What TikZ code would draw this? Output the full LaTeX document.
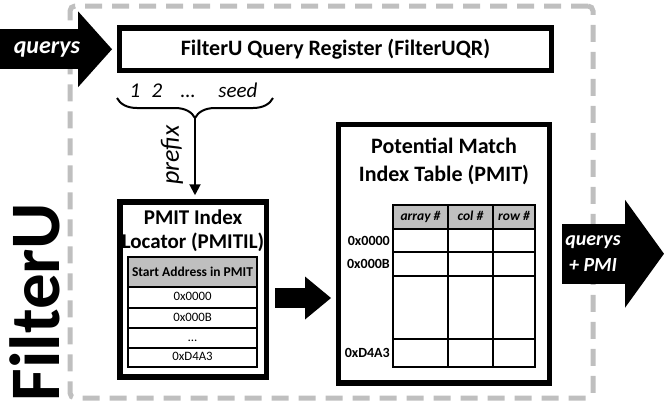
\documentclass[tikz,border=0pt]{standalone}
\usepackage{fontspec}
\setmainfont{Carlito}
\usetikzlibrary{arrows.meta,positioning,decorations.pathreplacing}
\definecolor{framegray}{HTML}{BFBFBF}
\definecolor{headgray}{HTML}{BFBFBF}

\begin{document}
\begin{tikzpicture}[
  x=1pt, y=-1pt,
  frame/.style={draw=framegray, line width=5pt, dash pattern=on 17pt off 10pt, rounded corners=5pt},
  unit/.style={draw, line width=5.5pt, fill=white},
  title/.style={font=\bfseries\fontsize{22}{24}\selectfont, align=center, inner sep=0pt},
  fat/.style={line width=#1},
  flow/.style={white, font=\bfseries\itshape\fontsize{#1}{26}\selectfont, align=center, inner sep=0pt},
  idx/.style={font=\itshape\fontsize{21}{21}\selectfont, inner sep=0pt, anchor=base},
  cell/.style={draw, line width=1.6pt, outer sep=0pt, inner sep=0pt, fill=white},
  ilhead/.style={cell, fill=headgray, minimum width=129pt, minimum height=30pt, font=\bfseries\fontsize{13.5}{14}\selectfont},
  ilrow/.style={cell, minimum width=129pt, minimum height=20pt, text height=9pt, text depth=2.5pt, font=\fontsize{12.8}{13}\selectfont},
  pmhead/.style={cell, fill=headgray, minimum height=24pt, text height=10pt, text depth=3pt, font=\bfseries\itshape\fontsize{13.5}{14}\selectfont},
  rowlabel/.style={font=\bfseries\fontsize{14}{14}\selectfont, inner sep=0pt}
]
\useasboundingbox (0,0) rectangle (664,408);

% FilterU boundary
\node[frame, minimum width=523pt, minimum height=392pt] (frame) at (331.5,202) {};
\node[rotate=90, font=\bfseries\fontsize{71}{71}\selectfont, inner sep=0pt] (filteru) at (35,302) {FilterU};

% query register
\node[unit, minimum width=432pt, minimum height=42.5pt, font=\bfseries\fontsize{22}{24}\selectfont] (uqr) at (335.5,49.25) {FilterU Query Register (FilterUQR)};
\coordinate (qin) at (0,49.25);
\draw[fat=40pt, -{Triangle[length=34pt, width=76pt, line width=0pt]}, shorten >=4.75pt] (qin) -- (uqr.west);
\node[flow=24] (qlabel) at (47,49) {querys};

% seed positions
\node[idx] (s1) at (135,97) {1};
\node[idx] (s2) at (157,97) {2};
\node[idx] (sdots) at (188,97) {…};
\node[idx] (sseed) at (238,97) {seed};
\coordinate (seedL) at (117,98);
\coordinate (seedR) at (273,98);
\coordinate (bracetip) at (195,118);
\draw[decorate, decoration={brace, mirror, amplitude=20pt}, line width=2pt] (seedL) -- (seedR);

% PMIT index locator
\node[unit, minimum width=146.5pt, minimum height=175pt] (il) at (193,289.5) {};
\node[title, font=\bfseries\fontsize{21}{24}\selectfont] (iltitle) at (193,230.5) {PMIT Index\\Locator (PMITIL)};
\node[ilhead] (ilh) at (192.5,272) {Start Address in PMIT};
\node[ilrow, below=0pt of ilh, minimum height=21pt] (il1) {0x0000};
\node[ilrow, below=0pt of il1] (il2) {0x000B};
\node[ilrow, below=0pt of il2] (il3) {…};
\node[ilrow, below=0pt of il3, minimum height=19pt] (il4) {0xD4A3};

\draw[line width=2pt, -{Triangle[length=11pt, width=11pt]}, shorten >=4pt] (bracetip) -- (bracetip |- il.north);
\node[rotate=90, font=\itshape\fontsize{26}{26}\selectfont, inner sep=0pt] (prefix) at (172,155) {prefix};

% potential match index table
\node[unit, minimum width=211pt, minimum height=258.5pt] (pmit) at (444,253.75) {};
\node[title, font=\bfseries\fontsize{22}{28}\selectfont] (pmtitle) at (444,161) {Potential Match\\Index Table (PMIT)};
\node[pmhead, minimum width=55pt] (ha) at (420.5,217) {array \#};
\node[pmhead, minimum width=45pt, right=0pt of ha] (hc) {col \#};
\node[pmhead, minimum width=42pt, right=0pt of hc] (hr) {row \#};
\node[cell, minimum width=55pt, minimum height=23pt, below=0pt of ha] (a1) {};
\node[cell, minimum width=55pt, minimum height=24pt, below=0pt of a1] (a2) {};
\node[cell, minimum width=55pt, minimum height=63pt, below=0pt of a2] (a3) {};
\node[cell, minimum width=55pt, minimum height=28pt, below=0pt of a3] (a4) {};
\node[cell, minimum width=45pt, minimum height=23pt, below=0pt of hc] (c1) {};
\node[cell, minimum width=45pt, minimum height=24pt, below=0pt of c1] (c2) {};
\node[cell, minimum width=45pt, minimum height=63pt, below=0pt of c2] (c3) {};
\node[cell, minimum width=45pt, minimum height=28pt, below=0pt of c3] (c4) {};
\node[cell, minimum width=42pt, minimum height=23pt, below=0pt of hr] (r1) {};
\node[cell, minimum width=42pt, minimum height=24pt, below=0pt of r1] (r2) {};
\node[cell, minimum width=42pt, minimum height=63pt, below=0pt of r2] (r3) {};
\node[cell, minimum width=42pt, minimum height=28pt, below=0pt of r3] (r4) {};
\node[rowlabel, left=3pt of a1] (lab1) {0x0000};
\node[rowlabel, left=3pt of a2] (lab2) {0x000B};
\node[rowlabel, left=3pt of a4] (lab4) {0xD4A3};

% locator to table
\coordinate (midtail) at (275,298);
\draw[fat=20pt, -{Triangle[length=26pt, width=43pt, line width=0pt]}, shorten >=4.75pt] (midtail) -- (midtail -| pmit.west);

% output
\coordinate (outtip) at (664,253.75);
\draw[fat=60pt, -{Triangle[length=39pt, width=108pt, line width=0pt]}, shorten <=9.75pt] (pmit.east) -- (outtip);
\node[flow=20] (outlabel) at (593,254) {querys\\+ PMI};
\end{tikzpicture}
\end{document}
